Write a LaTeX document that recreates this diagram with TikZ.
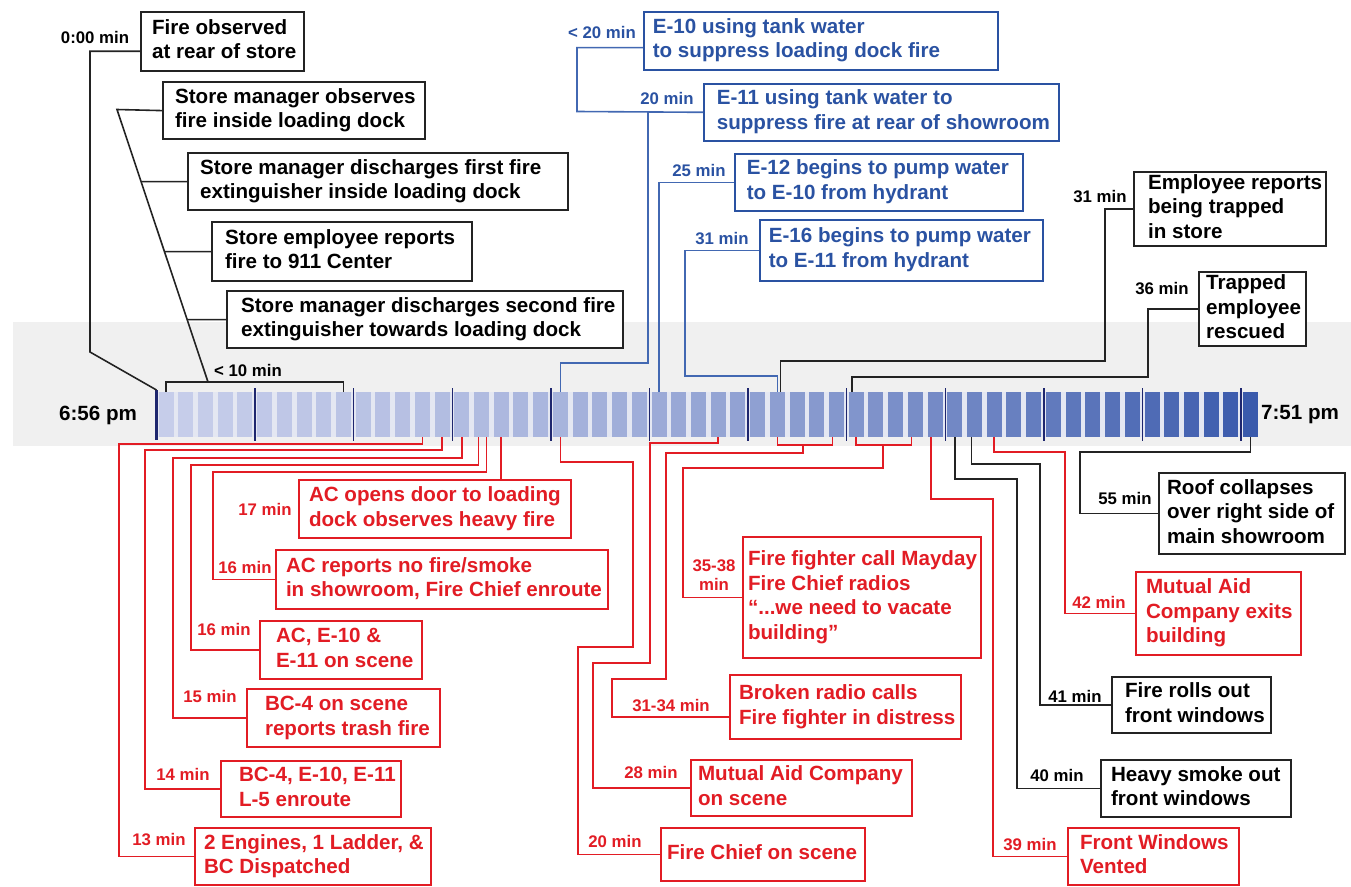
\documentclass[tikz,border=0pt]{standalone}
\usepackage{fontspec}
\setmainfont{Liberation Sans}

\definecolor{firered}{RGB}{226,28,36}
\definecolor{fireblue}{RGB}{42,82,162}
\definecolor{lineblue}{RGB}{66,104,178}
\definecolor{lineblack}{RGB}{35,35,35}
\definecolor{barlight}{RGB}{198,205,234}
\definecolor{bardark}{RGB}{58,90,172}
\definecolor{barbase}{RGB}{228,231,242}
\definecolor{tickblue}{RGB}{30,38,110}
\definecolor{band}{RGB}{240,240,240}

\newcommand{\boxlines}[2]{\makebox[#1pt][l]{\begin{tabular}{@{}l@{}}#2\end{tabular}}}

\tikzset{
    evbox/.style={draw, fill=white, anchor=north west, inner ysep=0pt,
        font=\bfseries\fontsize{20.6}{24.5}\selectfont},
    boxsize/.style 2 args={minimum width=#1pt, minimum height=#2pt},
    boxpad/.style={inner xsep=#1pt},
    kbox/.style={evbox, draw=lineblack, line width=2.2pt, text=black},
    bbox/.style={evbox, draw=fireblue, line width=1.6pt, text=fireblue},
    rbox/.style={evbox, draw=firered, line width=2pt, text=firered},
    lbl/.style={inner sep=0pt, align=center, font=\bfseries\fontsize{16.8}{19}\selectfont},
    timelbl/.style={inner sep=0pt, font=\bfseries\fontsize{20.6}{24.5}\selectfont},
    kline/.style={draw=lineblack, line width=1.6pt},
    bline/.style={draw=lineblue, line width=1.6pt},
    rline/.style={draw=firered, line width=1.6pt},
    seg/.style={draw=none, inner sep=0pt, minimum width=15pt, minimum height=45pt},
    tick/.style={draw=tickblue, line width=1.5pt}
}

\begin{document}
\begin{tikzpicture}[x=1pt, y=-1pt]
    \useasboundingbox (0,0) rectangle (1351,886);

    % time bar
    \fill[band] (13,322) rectangle (1351,446);
    \fill[barbase] (157,392) rectangle (1258,437);
    \foreach \m in {0,...,55} {
        \pgfmathtruncatemacro{\p}{100*(\m/55)*(0.4+0.6*\m/55)}
        \node (s\m) [seg, fill=bardark!\p!barlight] at ({166+19.72*\m},414.5) {};
    }
    \draw[tick, line width=3pt] (156.5,390) -- (156.5,440);
    \foreach \k in {1,...,11}
        \draw[tick] ({156.5+98.6*\k},388) -- ++(0,53);
    \coordinate (t0) at (156.5,390);
    \node (start) [timelbl] at (98,415) {6:56 pm};
    \node (end) [timelbl] at (1300,415) {7:51 pm};

    % nodes above the bar
    \node (e0) [kbox, boxsize={163}{59}, boxpad=11] at (140,11) {\boxlines{141}{Fire observed\\at rear of store}};
    \node (e1) [kbox, boxsize={262}{57}, boxpad=12] at (162,81) {\boxlines{238}{Store manager observes\\fire inside loading dock}};
    \node (e2) [kbox, boxsize={380}{57}, boxpad=12] at (187,152) {\boxlines{356}{Store manager discharges first fire\\extinguisher inside loading dock}};
    \node (e3) [kbox, boxsize={260}{59}, boxpad=13] at (211,221) {\boxlines{234}{Store employee reports\\fire to 911 Center}};
    \node (e4) [kbox, boxsize={396}{57}, boxpad=14] at (226,290) {\boxlines{368}{Store manager discharges second fire\\extinguisher towards loading dock}};

    \node (b1) [bbox, boxsize={354}{58}, boxpad=9] at (643,11) {\boxlines{336}{E-10 using tank water\\to suppress loading dock fire}};
    \node (b2) [bbox, boxsize={355}{57}, boxpad=13] at (703,83) {\boxlines{329}{E-11 using tank water to\\suppress fire at rear of showroom}};
    \node (b3) [bbox, boxsize={288}{57}, boxpad=12] at (734,153) {\boxlines{264}{E-12 begins to pump water\\to E-10 from hydrant}};
    \node (b4) [bbox, boxsize={283}{61}, boxpad=9] at (759,219) {\boxlines{265}{E-16 begins to pump water\\to E-11 from hydrant}};

    \node (k1) [kbox, boxsize={192}{73}, boxpad=14] at (1133,171) {\boxlines{164}{Employee reports\\being trapped\\in store}};
    \node (k2) [kbox, boxsize={107}{74}, boxpad=7] at (1198,271) {\boxlines{93}{Trapped\\employee\\rescued}};

    % nodes below the bar
    \node (r17) [rbox, boxsize={272}{58}, boxpad=10] at (298,479) {\boxlines{252}{AC opens door to loading\\dock observes heavy fire}};
    \node (r16a) [rbox, boxsize={332}{59}, boxpad=10] at (275,549) {\boxlines{312}{AC reports no fire/smoke\\in showroom, Fire Chief enroute}};
    \node (r16b) [rbox, boxsize={162}{58}, boxpad=16] at (259,620) {\boxlines{130}{AC, E-10 \&\\E-11 on scene}};
    \node (r15) [rbox, boxsize={193}{58}, boxpad=18] at (246,688) {\boxlines{157}{BC-4 on scene\\reports trash fire}};
    \node (r14) [rbox, boxsize={180}{56}, boxpad=18] at (220,760) {\boxlines{144}{BC-4, E-10, E-11\\L-5 enroute}};
    \node (r13) [rbox, boxsize={236}{57}, boxpad=9] at (194,827) {\boxlines{218}{2 Engines, 1 Ladder, \&\\BC Dispatched}};
    \node (rfc) [rbox, boxsize={204}{53}, boxpad=6] at (660,827) {\boxlines{192}{Fire Chief on scene}};
    \node (rma) [rbox, boxsize={221}{56}, boxpad=7] at (690,759) {\boxlines{207}{Mutual Aid Company\\on scene}};
    \node (rbr) [rbox, boxsize={231}{64}, boxpad=9] at (729,674) {\boxlines{213}{Broken radio calls\\Fire fighter in distress}};
    \node (rmd) [rbox, boxsize={238}{121}, boxpad=5] at (742,536) {\boxlines{228}{Fire fighter call Mayday\\Fire Chief radios\\“...we need to vacate\\building”}};
    \node (rfw) [rbox, boxsize={171}{57}, boxpad=12] at (1067,827) {\boxlines{147}{Front Windows\\Vented}};
    \node (r42) [rbox, boxsize={165}{83}, boxpad=10] at (1135,571) {\boxlines{145}{Mutual Aid\\Company exits\\building}};

    \node (k55) [kbox, boxsize={186}{81}, boxpad=8] at (1158,472) {\boxlines{170}{Roof collapses\\over right side of\\main showroom}};
    \node (k41) [kbox, boxsize={159}{56}, boxpad=13] at (1111,676) {\boxlines{133}{Fire rolls out\\front windows}};
    \node (k40) [kbox, boxsize={190}{57}, boxpad=10] at (1100,759) {\boxlines{170}{Heavy smoke out\\front windows}};

    % labels
    \node (e0t) [lbl] at (95,37) {0:00 min};
    \node (lt10) [lbl] at (248,370) {< 10 min};
    \node (b1t) [lbl, text=fireblue] at (602,32) {< 20 min};
    \node (b2t) [lbl, text=fireblue] at (667,98) {20 min};
    \node (b3t) [lbl, text=fireblue] at (699,170) {25 min};
    \node (b4t) [lbl, text=fireblue] at (722,239) {31 min};
    \node (k1t) [lbl] at (1100,197) {31 min};
    \node (k2t) [lbl] at (1162,289) {36 min};
    \node (r17t) [lbl, text=firered] at (265,509) {17 min};
    \node (r16at) [lbl, text=firered] at (245,567) {16 min};
    \node (r16bt) [lbl, text=firered] at (224,629) {16 min};
    \node (r15t) [lbl, text=firered] at (210,696) {15 min};
    \node (r14t) [lbl, text=firered] at (183,774) {14 min};
    \node (r13t) [lbl, text=firered] at (159,839) {13 min};
    \node (rfct) [lbl, text=firered] at (615,841) {20 min};
    \node (rmat) [lbl, text=firered] at (651,772) {28 min};
    \node (rbrt) [lbl, text=firered] at (671,705) {31-34 min};
    \node (rmdt) [lbl, text=firered] at (714,575) {35-38\\min};
    \node (rfwt) [lbl, text=firered] at (1030,844) {39 min};
    \node (r42t) [lbl, text=firered] at (1099,602) {42 min};
    \node (k55t) [lbl] at (1125,498) {55 min};
    \node (k41t) [lbl] at (1075,696) {41 min};
    \node (k40t) [lbl] at (1057,775) {40 min};

    % edges above the bar
    \coordinate (d1) at (117,109.5);
    \coordinate (d2) at (208,382);
    \draw[kline] ([yshift=21pt]e0.south west) -| (90,352) -- (t0);
    \draw[kline] (e1.west) -- (d1) -- (d2);
    \draw[kline] (e2.west) -- (intersection of d1--d2 and e2.west--e2.east);
    \draw[kline] (e3.west) -- (intersection of d1--d2 and e3.west--e3.east);
    \draw[kline] (e4.west) -- (intersection of d1--d2 and e4.west--e4.east);
    \draw[kline] (s0.north) -- ++(0,-10) -| (s9.north);

    \draw[bline] ([yshift=23pt]b1.south west) -| (577,111.5) -- (b2.west);
    \draw[bline] (b2.west) -| (648,363) -| (s20.north);
    \draw[bline] (b3.west) -| (s25.north);
    \draw[bline] (b4.west) -| (685,376) -| (s31.north);
    \draw[kline] (k1.west) -| (1105,361) -| ([xshift=3pt]s31.north);
    \draw[kline] (k2.west) -| (1148,377) -| ([xshift=-4pt]s35.north);

    % edges below the bar
    \draw[rline] (s13.south) |- (119,444) |- (r13.west);
    \draw[rline] (s14.south) |- (145,450) |- (r14.west);
    \draw[rline] (s15.south) |- (173,458) |- (r15.west);
    \draw[rline] ([xshift=-3pt]s16.south) |- (191,465) |- (r16b.west);
    \draw[rline] ([xshift=5pt]s16.south) |- (213,472) |- (r16a.west);
    \draw[rline] (s17.south) -- (s17.south |- r17.north);
    \draw[rline] (s20.south) |- (633,462) |- (578,647) |- (rfc.west);
    \draw[rline] (s28.south) |- (650,443) |- (593,663) |- (rma.west);
    \coordinate (j31) at (803,445);
    \draw[rline] (s31.south) |- (j31) -| ([xshift=-4pt]s34.south);
    \draw[rline] (j31) |- (666,453) |- (612,679) |- ([yshift=-10pt]rbr.west);
    \coordinate (j35) at (883,445);
    \draw[rline] (s35.south) |- (j35) -| ([xshift=-4pt]s38.south);
    \draw[rline] (j35) |- (683,468) |- (rmd.west);
    \draw[rline] ([xshift=-4pt]s39.south) |- (993,499) |- (rfw.west);
    \draw[kline] (s40.south) |- (1017,479) |- (k40.west);
    \draw[kline] ([xshift=-3pt]s41.south) |- (1040,464) |- (k41.west);
    \draw[rline] (s42.south) |- (1065,452) |- (r42.west);
    \draw[kline] (s55.south) |- (1080,452) |- (k55.west);
\end{tikzpicture}
\end{document}
